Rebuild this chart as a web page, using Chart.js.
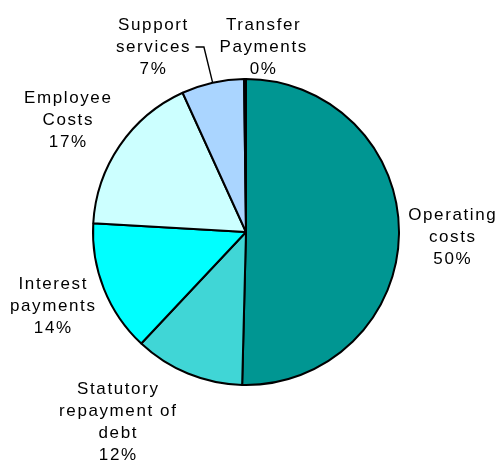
<!DOCTYPE html>
<html>
<head>
<meta charset="utf-8">
<script src="https://cdn.jsdelivr.net/npm/chart.js@4/dist/chart.umd.min.js"></script>
<style>
  html, body { margin: 0; padding: 0; background: #fff; }
  #wrap { width: 497px; height: 461px; }
</style>
</head>
<body>
<div id="wrap"><canvas id="pie"></canvas></div>
<script>
const categories = [
  ["Operating", "costs"],
  ["Statutory", "repayment of", "debt"],
  ["Interest", "payments"],
  ["Employee", "Costs"],
  ["Support", "services"],
  ["Transfer", "Payments"]
];
const shares = [50.4, 11.6, 13.9, 17.3, 6.6, 0.2];
const colours = ["#009692", "#40d6d6", "#00ffff", "#ccffff", "#aad5ff", "#000000"];

// label block centre offsets from pie centre, in units of radius
const labelOffsets = [
  [1.346, 0.026],
  [-0.84, 1.237],
  [-1.265, 0.474],
  [-1.167, -0.742],
  [-0.61, -1.216],
  [0.11, -1.216]
];

const total = shares.reduce((a, b) => a + b, 0);

const labelPlugin = {
  id: "pieLabels",
  afterDatasetsDraw(chart) {
    const ctx = chart.ctx;
    const arcs = chart.getDatasetMeta(0).data;
    const cx = arcs[0].x, cy = arcs[0].y, r = arcs[0].outerRadius;
    ctx.save();
    ctx.font = "17px 'Liberation Sans'";
    ctx.letterSpacing = "1.6px";
    ctx.fillStyle = "#000";
    ctx.textAlign = "center";
    ctx.textBaseline = "alphabetic";
    const lh = 22;
    const cap = 12.2;
    categories.forEach((lines, i) => {
      const pct = Math.round(shares[i] / total * 100) + "%";
      const all = lines.concat([pct]);
      const x = cx + labelOffsets[i][0] * r;
      const mid = cy + labelOffsets[i][1] * r;
      const first = mid - ((all.length - 1) * lh + cap) / 2 + cap;
      all.forEach((t, k) => ctx.fillText(t, x + 0.8, first + k * lh));
    });
    // leader line for support services
    const a = arcs[4];
    const ang = a.startAngle + (a.endAngle - a.startAngle) * 0.5;
    const ex = cx + Math.cos(ang) * r, ey = cy + Math.sin(ang) * r;
    ctx.beginPath();
    ctx.lineWidth = 1.4;
    ctx.strokeStyle = "#000";
    ctx.moveTo(cx - 0.33 * r, cy - 1.209 * r);
    ctx.lineTo(cx - 0.275 * r, cy - 1.209 * r);
    ctx.lineTo(ex, ey);
    ctx.stroke();
    ctx.restore();
  }
};

new Chart(document.getElementById("pie"), {
  type: "pie",
  data: {
    labels: categories.map(c => c.join(" ")),
    datasets: [{
      data: shares,
      backgroundColor: colours,
      borderColor: "#000",
      borderWidth: 2
    }]
  },
  options: {
    responsive: true,
    maintainAspectRatio: false,
    animation: false,
    layout: { padding: { left: 92, right: 97, top: 78, bottom: 75 } },
    plugins: {
      legend: { display: false },
      tooltip: { enabled: false }
    }
  },
  plugins: [labelPlugin]
});
</script>
</body>
</html>
